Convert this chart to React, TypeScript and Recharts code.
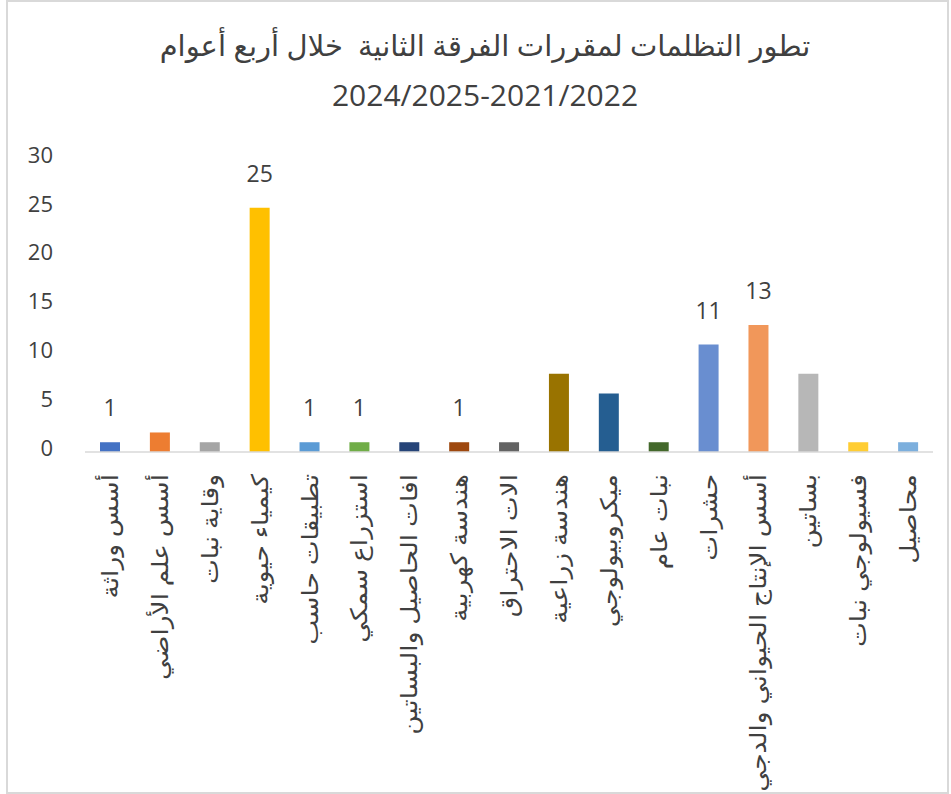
import { BarChart, Bar, XAxis, YAxis, Cell, LabelList } from 'recharts'

const categories = [
  'أسس وراثة',
  'أسس علم الأراضي',
  'وقاية نبات',
  'كيمياء حيوية',
  'تطبيقات حاسب',
  'استزراع سمكي',
  'افات الحاصيل والبساتين',
  'هندسة كهربية',
  'الات الاحتراق',
  'هندسة زراعية',
  'ميكروبيولوجي',
  'نبات عام',
  'حشرات',
  'أسس الإنتاج الحيواني والدجي',
  'بساتين',
  'فسيولوجي نبات',
  'محاصيل',
]
const values = [1, 2, 1, 25, 1, 1, 1, 1, 1, 8, 6, 1, 11, 13, 8, 1, 1]
const colors = [
  '#4472C4', '#ED7D31', '#A5A5A5', '#FFC000', '#5B9BD5', '#70AD47',
  '#264478', '#9E480E', '#636363', '#997300', '#255E91', '#43682B',
  '#698ED0', '#F1975A', '#B7B7B7', '#FFCD33', '#7CAFDD',
]
// which bars carry a data label in the original
const shownLabels = [true, false, false, true, true, true, false, true, false, false, false, false, true, true, false, false, false]
const yTicks = [0, 5, 10, 15, 20, 25, 30]
const titleLines = ['تطور التظلمات لمقررات الفرقة الثانية  خلال أربع أعوام', '2024/2025-2021/2022']

const data = categories.map((name, i) => ({
  name,
  value: values[i],
  label: shownLabels[i] ? values[i] : '',
}))

const FONT = '"Open Sans", "DejaVu Sans", sans-serif'
const INK = '#404040'

// category names run top-down, stretched a little along the text like the original
const CategoryTick = ({ x, y, payload }: any) => (
  <text
    x={0}
    y={0}
    transform={`translate(${x}, ${y}) rotate(-90) scale(1.15, 1)`}
    textAnchor="end"
    dy="0.35em"
    fontSize={23}
    fontFamily={FONT}
    fill={INK}
  >
    {payload.value}
  </text>
)

const ValueTick = ({ x, y, payload }: any) => (
  <text x={x} y={y - 4} dy="0.35em" textAnchor="end" fontSize={22} fontFamily={FONT} fill={INK}>
    {payload.value}
  </text>
)

const renderValueLabel = (props: any) => {
  const { x, y, width, value } = props
  if (value === '' || value == null) return null
  return (
    <text x={x + width / 2} y={y - 34} dy="0.35em" textAnchor="middle" fontSize={23} fontFamily={FONT} fill={INK}>
      {value}
    </text>
  )
}

export default function App() {
  return (
    <div style={{ position: 'absolute', left: 0, top: 0, width: 951, height: 794, background: '#fff', overflow: 'hidden' }}>
      <div
        style={{
          position: 'absolute', left: 6, top: 0, width: 943, height: 794,
          border: '2px solid #d9d9d9', boxSizing: 'border-box',
        }}
      />
      {titleLines.map((line, i) => (
        <div
          key={i}
          dir={i === 0 ? 'rtl' : 'ltr'}
          style={{
            position: 'absolute', left: 0, width: 970, top: 25 + i * 50, lineHeight: '40px',
            textAlign: 'center', fontSize: i === 0 ? 29 : 30, fontFamily: FONT, color: INK, whiteSpace: 'pre',
          }}
        >
          {line}
        </div>
      ))}
      <div style={{ position: 'absolute', left: 0, top: 0 }}>
        <BarChart width={951} height={794} data={data} margin={{ top: 159, right: 18, bottom: 0, left: 0 }}>
          <XAxis
            dataKey="name"
            interval={0}
            height={342}
            tickLine={false}
            tickSize={0}
            tickMargin={22}
            axisLine={{ stroke: '#d9d9d9', strokeWidth: 1.5 }}
            tick={<CategoryTick />}
          />
          <YAxis
            width={85}
            domain={[0, 30]}
            ticks={yTicks}
            axisLine={false}
            tickLine={false}
            tickSize={0}
            tickMargin={32}
            tick={<ValueTick />}
          />
          <Bar dataKey="value" barSize={20} isAnimationActive={false}>
            {data.map((d, i) => (
              <Cell key={d.name} fill={colors[i]} />
            ))}
            <LabelList dataKey="label" content={renderValueLabel} />
          </Bar>
        </BarChart>
      </div>
    </div>
  )
}
